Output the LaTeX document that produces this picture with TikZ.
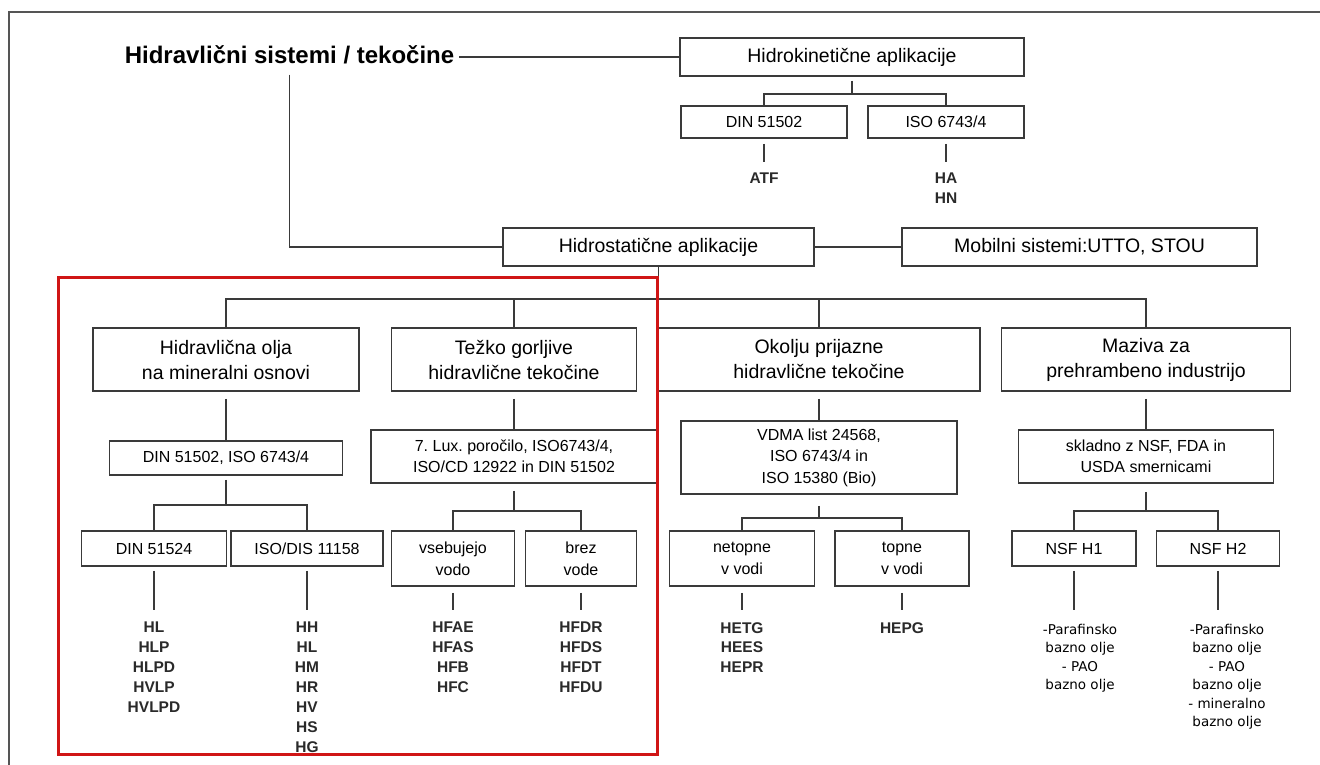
\documentclass[tikz,border=0pt]{standalone}
\usepackage{fontspec}
\setmainfont{Liberation Sans}
\newfontfamily\nsffont{DejaVu Sans}
\usetikzlibrary{calc}
\frenchspacing
\definecolor{linecol}{HTML}{3A3A3A}
\definecolor{framecol}{HTML}{555555}
\definecolor{leafcol}{HTML}{2A2A2A}
\definecolor{redcol}{HTML}{D01515}
\tikzset{
  box/.style={draw=linecol, line width=1.6pt, inner sep=0pt, align=center, text=black},
  fa/.style={font=\fontsize{19.5}{25}\selectfont},
  fb/.style={font=\fontsize{16}{21.5}\selectfont},
  fc/.style={font=\fontsize{16}{22}\selectfont},
  conn/.style={draw=linecol, line width=1.6pt},
  leaf/.style={inner sep=0pt, align=center, anchor=north, text=leafcol, font=\bfseries\fontsize{15.5}{19.9}\selectfont},
  nsf/.style={inner sep=0pt, align=center, anchor=north, text=black, font=\nsffont\fontsize{13.5}{18.5}\selectfont},
  titlestyle/.style={inner sep=0pt, anchor=base, text=black, font=\bfseries\fontsize{24}{28}\selectfont},
}
\begin{document}
\begin{tikzpicture}[x=1pt,y=-1pt]
\useasboundingbox (0,0) rectangle (1320,765);
\fill[white] (0,0) rectangle (1320,765);
% outer frame
\draw[framecol, line width=1.3pt] (9,765) -- (9,12) -- (1320,12);

% title and top level
\node[titlestyle] (title) at (289.5,64) {Hidravlični sistemi / tekočine};
\node[box,fa,minimum width=344pt,minimum height=38pt] (hk) at (852,57) {Hidrokinetične aplikacije};
\node[box,fb,minimum width=166pt,minimum height=32pt] (dinA) at (764,122) {DIN 51502};
\node[box,fb,minimum width=156pt,minimum height=32pt] (isoA) at (946,122) {ISO 6743/4};
\node[leaf] (atf) at (764,173) {ATF};
\node[leaf] (hahn) at (946,173) {HA\\HN};
\node[box,fa,minimum width=311pt,minimum height=38pt] (hs) at (658.5,247) {Hidrostatične aplikacije};
\node[box,fa,minimum width=355pt,minimum height=38pt] (mob) at (1079.5,247) {Mobilni sistemi:UTTO, STOU};

% level 1
\node[box,fa,minimum width=266pt,minimum height=63pt] (l1a) at (226,359.5) {Hidravlična olja\\na mineralni osnovi};
\node[box,fa,minimum width=245pt,minimum height=63pt] (l1b) at (514,359.5) {Težko gorljive\\hidravlične tekočine};
\node[box,fa,minimum width=322pt,minimum height=63pt] (l1c) at (819,359.5) {Okolju prijazne\\hidravlične tekočine};
\node[box,fa,minimum width=289pt,minimum height=63pt] (l1d) at (1146,359.5) {Maziva za\\prehrambeno industrijo};

% level 2
\node[box,fb,minimum width=233pt,minimum height=34pt] (l2a) at (226,458) {DIN 51502, ISO 6743/4};
\node[box,fb,minimum width=286pt,minimum height=53pt] (l2b) at (514,456.5) {7. Lux. poročilo, ISO6743/4,\\ISO/CD 12922 in DIN 51502};
\node[box,fb,minimum width=276pt,minimum height=73pt] (l2c) at (819,457.5) {VDMA list 24568,\\ISO 6743/4 in\\ISO 15380 (Bio)};
\node[box,fb,minimum width=255pt,minimum height=53pt] (l2d) at (1146,456.5) {skladno z NSF, FDA in\\USDA smernicami};

% level 3
\node[box,fc,minimum width=145pt,minimum height=35pt] (din3) at (154,548.5) {DIN 51524};
\node[box,fc,minimum width=152pt,minimum height=35pt] (iso3) at (307,548.5) {ISO/DIS 11158};
\node[box,fc,minimum width=123pt,minimum height=55pt] (vseb) at (453,558.5) {vsebujejo\\vodo};
\node[box,fc,minimum width=111pt,minimum height=55pt] (brez) at (581,558.5) {brez\\vode};
\node[box,fc,minimum width=145pt,minimum height=55pt] (netop) at (742,558.5) {netopne\\v vodi};
\node[box,fc,minimum width=134pt,minimum height=55pt] (topne) at (902,558.5) {topne\\v vodi};
\node[box,fc,minimum width=124pt,minimum height=35pt] (h1) at (1074,548.5) {NSF H1};
\node[box,fc,minimum width=123pt,minimum height=35pt] (h2) at (1218,548.5) {NSF H2};

% leaves
\node[leaf] (lfa) at (154,622) {HL\\HLP\\HLPD\\HVLP\\HVLPD};
\node[leaf] (lfb) at (307,622) {HH\\HL\\HM\\HR\\HV\\HS\\HG};
\node[leaf] (lfc) at (453,622) {HFAE\\HFAS\\HFB\\HFC};
\node[leaf] (lfd) at (581,622) {HFDR\\HFDS\\HFDT\\HFDU};
\node[leaf] (lfe) at (742,622) {HETG\\HEES\\HEPR};
\node[leaf] (lff) at (902,622) {HEPG};
\node[nsf] (nsfa) at (1080,624) {-Parafinsko\\bazno olje\\- PAO\\bazno olje};
\node[nsf] (nsfb) at (1227,624) {-Parafinsko\\bazno olje\\- PAO\\bazno olje\\- mineralno\\bazno olje};

% connectors: top
\coordinate (tl) at (title.east |- hk.west);
\draw[conn, shorten <=5pt] (tl) -- (hk.west);
\draw[conn, shorten <=10pt] (title.south) |- (hs.west);
\coordinate (bhk) at (852,94);
\draw[conn, shorten <=4pt] (hk.south) -- (bhk);
\draw[conn] (dinA.north) |- (bhk) -| (isoA.north);
\draw[conn, shorten <=5pt, shorten >=11pt] (dinA.south) -- (atf.north);
\draw[conn, shorten <=5pt, shorten >=11pt] (isoA.south) -- (hahn.north);
\draw[conn] (hs.east) -- (mob.west);

% Hidrostatične bus
\coordinate (bhs) at (658.5,299);
\draw[conn] (hs.south) -- (bhs);
\draw[conn] (l1a.north) |- (bhs) -| (l1d.north);
\draw[conn] (l1b.north) -- (l1b.north |- bhs);
\draw[conn] (l1c.north) -- (l1c.north |- bhs);

% level 1 -> level 2
\draw[conn, shorten <=7pt] (l1a.south) -- (l2a.north);
\draw[conn, shorten <=7pt] (l1b.south) -- (l2b.north);
\draw[conn, shorten <=7pt] (l1c.south) -- (l2c.north);
\draw[conn, shorten <=7pt] (l1d.south) -- (l2d.north);

% level 2 -> level 3
\coordinate (b2a) at (226,505);
\draw[conn, shorten <=4pt] (l2a.south) -- (b2a);
\draw[conn] (din3.north) |- (b2a) -| (iso3.north);
\coordinate (b2b) at (514,511);
\draw[conn, shorten <=7pt] (l2b.south) -- (b2b);
\draw[conn] (vseb.north) |- (b2b) -| (brez.north);
\coordinate (b2c) at (819,518);
\draw[conn, shorten <=11pt] (l2c.south) -- (b2c);
\draw[conn] (netop.north) |- (b2c) -| (topne.north);
\coordinate (b2d) at (1146,511);
\draw[conn, shorten <=8pt] (l2d.south) -- (b2d);
\draw[conn] (h1.north) |- (b2d) -| (h2.north);

% level 3 -> leaves
\draw[conn, shorten <=4pt, shorten >=12pt] (din3.south) -- (lfa.north);
\draw[conn, shorten <=4pt, shorten >=12pt] (iso3.south) -- (lfb.north);
\draw[conn, shorten <=6pt, shorten >=12pt] (vseb.south) -- (lfc.north);
\draw[conn, shorten <=6pt, shorten >=12pt] (brez.south) -- (lfd.north);
\draw[conn, shorten <=6pt, shorten >=12pt] (netop.south) -- (lfe.north);
\draw[conn, shorten <=6pt, shorten >=12pt] (topne.south) -- (lff.north);
\draw[conn, shorten <=4pt, shorten >=14pt] (h1.south) -- (h1.south |- nsfa.north);
\draw[conn, shorten <=4pt, shorten >=14pt] (h2.south) -- (h2.south |- nsfb.north);

% red highlight
\draw[redcol, line width=3pt] (58,277) rectangle (657,754);
\end{tikzpicture}
\end{document}
